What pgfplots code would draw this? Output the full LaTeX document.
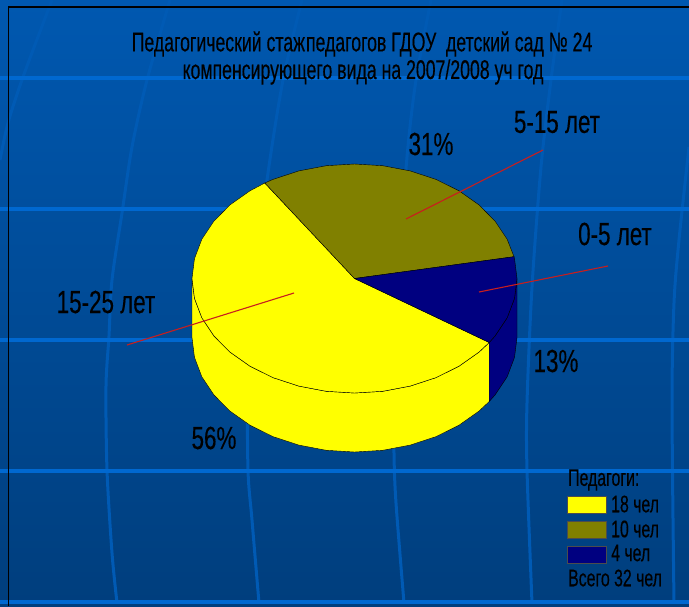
\documentclass[border=0pt]{standalone}
\usepackage{fontspec}
\setmainfont{Liberation Sans}
\newfontfamily\ft[FakeStretch=0.70,FakeBold=0.25]{Liberation Sans}
\newfontfamily\fh[FakeStretch=0.655,FakeBold=0.25]{Liberation Sans}
\newfontfamily\fl[FakeStretch=0.66,FakeBold=0.25]{Liberation Sans}
\usepackage{pgfplots}
\pgfplotsset{compat=1.18}
\definecolor{gl}{HTML}{0068D0}
\definecolor{gv}{HTML}{005AB4}
\definecolor{yel}{RGB}{255,255,0}
\definecolor{olv}{HTML}{808000}
\definecolor{nav}{HTML}{000080}
\definecolor{lead}{HTML}{C81E1E}
\definecolor{bgt}{RGB}{0,88,176}
\definecolor{bgb}{RGB}{0,62,125}
\tikzset{lab/.style={inner sep=0pt, text=black}}
\begin{document}
\begin{tikzpicture}
\begin{axis}[
  scale only axis, width=689pt, height=606pt,
  xmin=0, xmax=689, ymin=0, ymax=606, y dir=reverse,
  hide axis,
]
\fill[top color=bgt, bottom color=bgb] (axis cs:0,0) rectangle (axis cs:689,606);
% background lines
\addplot[gv, line width=3pt, smooth] coordinates {(52,0)(23,77)(8,123)(0,160)};
\addplot[gv, line width=3pt, smooth] coordinates {(170,0)(147,80)(132,147)(122,213)(112,280)(109,336)(106,386)(107,470)(112,553)(117,603)};
\addplot[gv, line width=3pt, smooth] coordinates {(302,0)(283,80)(267,180)(255,280)(248,380)(248,470)(252,520)(259,603)};
\addplot[gv, line width=3pt, smooth] coordinates {(431,0)(416,80)(407,157)(398,280)(394,380)(394,453)(396,503)(404,603)};
\addplot[gv, line width=3pt, smooth] coordinates {(562,0)(551,80)(541,167)(532,287)(527,403)(527,470)(532,603)};
\addplot[gv, line width=3pt, smooth] coordinates {(689,147)(679,240)(674,303)(672,403)(674,603)};
\addplot[gl, line width=3.2pt] coordinates {(0,78)(689,78)};
\addplot[gl, line width=3.2pt] coordinates {(0,209)(689,209)};
\addplot[gl, line width=3.2pt] coordinates {(0,340)(689,340)};
\addplot[gl, line width=3.2pt] coordinates {(0,471)(689,471)};
\addplot[gl, line width=3.2pt] coordinates {(0,602)(689,602)};
% frame
\addplot[black, line width=1.7pt] coordinates {(8.5,606)(8.5,7)(689,7)};
% side walls
\addplot[fill=yel, draw=black, line width=0.4pt] coordinates {
(192.0,278.5)(194.5,298.4)(201.8,317.7)(213.8,335.8)(230.0,352.1)(250.0,366.2)(273.2,377.7)(298.9,386.1)(326.3,391.3)(354.5,393.0)(382.7,391.3)(410.1,386.1)(435.8,377.7)(459.0,366.2)(479.0,352.1)(489.2,342.5)
(489.2,401.5)(479.0,411.1)(459.0,425.2)(435.8,436.7)(410.1,445.1)(382.7,450.3)(354.5,452.0)(326.3,450.3)(298.9,445.1)(273.2,436.7)(250.0,425.2)(230.0,411.1)(213.8,394.8)(201.8,376.7)(194.5,357.4)(192.0,337.5)(192.0,278.5)};
\addplot[fill=nav, draw=black, line width=0.4pt] coordinates {
(489.2,342.5)(495.2,335.8)(507.2,317.7)(514.5,298.4)(517.0,278.5)(517.0,337.5)(514.5,357.4)(507.2,376.7)(495.2,394.8)(489.2,401.5)(489.2,342.5)};
% top slices: 18, 10 and 4 teachers (56%, 31%, 13%)
\addplot[fill=yel, draw=black, line width=0.4pt] coordinates {
(354.5,278.5)(264.8,183.0)(250.0,190.8)(230.0,204.9)(213.8,221.3)(201.8,239.3)(194.5,258.6)(192.0,278.5)(194.5,298.4)(201.8,317.7)(213.8,335.8)(230.0,352.1)(250.0,366.2)(273.2,377.7)(298.9,386.1)(326.3,391.3)(354.5,393.0)(382.7,391.3)(410.1,386.1)(435.8,377.7)(459.0,366.2)(479.0,352.1)(489.2,342.5)(354.5,278.5)};
\addplot[fill=olv, draw=black, line width=0.4pt] coordinates {
(354.5,278.5)(514.0,256.7)(507.2,239.3)(495.2,221.3)(479.0,204.9)(459.0,190.8)(435.8,179.3)(410.1,170.9)(382.7,165.7)(354.5,164.0)(326.3,165.7)(298.9,170.9)(273.2,179.3)(264.8,183.0)(354.5,278.5)};
\addplot[fill=nav, draw=black, line width=0.4pt] coordinates {
(354.5,278.5)(489.2,342.5)(495.2,335.8)(507.2,317.7)(514.5,298.4)(517.0,278.5)(514.5,258.6)(514.0,256.7)(354.5,278.5)};
% leader lines
\addplot[lead, line width=1.1pt] coordinates {(294,293)(127,345)};
\addplot[lead, line width=1.1pt] coordinates {(406,219)(543,150)};
\addplot[lead, line width=1.1pt] coordinates {(479,292)(608,266)};
% legend swatches
\addplot[fill=yel, draw=black!70, line width=0.5pt] coordinates {(567,496)(606,496)(606,513)(567,513)(567,496)};
\addplot[fill=olv, draw=black!70, line width=0.5pt] coordinates {(567,521)(606,521)(606,538.5)(567,538.5)(567,521)};
\addplot[fill=nav, draw=black!70, line width=0.5pt] coordinates {(567,546)(606,546)(606,563)(567,563)(567,546)};
% text
\node[lab] at (axis cs:362,44) {\fh\fontsize{27}{27}\selectfont Педагогический стаж\hspace{1pt}педагогов ГДОУ \ детский сад № 24};
\node[lab] at (axis cs:363,72) {\fh\fontsize{27}{27}\selectfont компенсирующего вида на 2007/2008 уч год};
\node[lab] at (axis cs:431,144) {\ft\fontsize{32}{32}\selectfont 31\%};
\node[lab] at (axis cs:557,122) {\ft\fontsize{32}{32}\selectfont 5-15 лет};
\node[lab] at (axis cs:615,234) {\ft\fontsize{32}{32}\selectfont 0-5 лет};
\node[lab] at (axis cs:106,302) {\ft\fontsize{32}{32}\selectfont 15-25 лет};
\node[lab] at (axis cs:556,361) {\ft\fontsize{32}{32}\selectfont 13\%};
\node[lab] at (axis cs:214,438) {\ft\fontsize{32}{32}\selectfont 56\%};
\node[lab, anchor=west] at (axis cs:568,480) {\fl\fontsize{24}{24}\selectfont Педагоги:};
\node[lab, anchor=west] at (axis cs:611,504) {\fl\fontsize{24}{24}\selectfont 18 чел};
\node[lab, anchor=west] at (axis cs:611,529) {\fl\fontsize{24}{24}\selectfont 10 чел};
\node[lab, anchor=west] at (axis cs:611,553) {\fl\fontsize{24}{24}\selectfont 4 чел};
\node[lab, anchor=west] at (axis cs:568,578) {\fl\fontsize{24}{24}\selectfont Всего 32 чел};
\end{axis}
\end{tikzpicture}
\end{document}
